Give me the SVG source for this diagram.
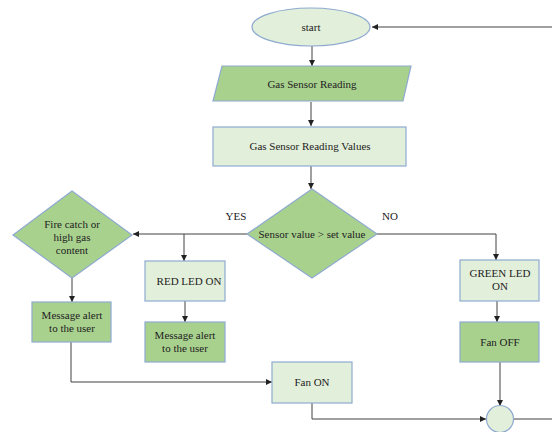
<svg xmlns="http://www.w3.org/2000/svg" width="552" height="432" viewBox="0 0 552 432" font-family="'Liberation Serif', 'Times New Roman', serif">
<style>
.lt{fill:#e2efda;stroke:#8eaad0;stroke-width:1.2}
.dk{fill:#a9d18e;stroke:#8eaad0;stroke-width:1.2}
.c{fill:none;stroke:#404040;stroke-width:1}
text{font-family:'Liberation Serif',serif;font-size:11px;fill:#222;text-anchor:middle}
</style>
<defs>
<marker id="a" viewBox="0 0 8 8" refX="8" refY="4" markerWidth="6" markerHeight="6" orient="auto" markerUnits="userSpaceOnUse"><path d="M0,0 L8,4 L0,8 z" fill="#222"/></marker>
</defs>
<rect width="552" height="432" fill="#fff"/>
<g id="connectors">
<path class="c" d="M552,27 H372" marker-end="url(#a)"/>
<path class="c" d="M312,46 V66" marker-end="url(#a)"/>
<path class="c" d="M311,102 V126" marker-end="url(#a)"/>
<path class="c" d="M311,166 V189" marker-end="url(#a)"/>
<path class="c" d="M247,234 H133" marker-end="url(#a)"/>
<path class="c" d="M184,234 V261" marker-end="url(#a)"/>
<path class="c" d="M377,234 H496 V260" marker-end="url(#a)"/>
<path class="c" d="M72,278 V302" marker-end="url(#a)"/>
<path class="c" d="M185,301 V322" marker-end="url(#a)"/>
<path class="c" d="M497,301 V322" marker-end="url(#a)"/>
<path class="c" d="M71,342 V382 H272" marker-end="url(#a)"/>
<path class="c" d="M500,362 V406" marker-end="url(#a)"/>
<path class="c" d="M312,403 V419 H486" marker-end="url(#a)"/>
<path class="c" d="M514,419 H552"/>
</g>
<g id="start"><ellipse class="lt" cx="311" cy="27" rx="59" ry="19"/><text x="311" y="30.5">start</text></g>
<g id="gas-reading"><polygon class="dk" points="222,66 411,66 403,101 213,101"/><text x="312" y="88">Gas Sensor Reading</text></g>
<g id="gas-values"><rect class="lt" x="213" y="127" width="193" height="39"/><text x="310" y="150">Gas Sensor Reading Values</text></g>
<g id="decision"><polygon class="dk" points="312,189 377,234 312,278 247,234"/><text x="312" y="237.5">Sensor value &gt; set value</text></g>
<text x="236" y="220">YES</text>
<text x="390" y="220">NO</text>
<g id="fire"><polygon class="dk" points="72,191 132,235 72,278 13,235"/><text x="72" y="228">Fire catch or</text><text x="72" y="241">high gas</text><text x="72" y="254">content</text></g>
<g id="msg1"><rect class="dk" x="32" y="302" width="79" height="40"/><text x="72" y="319">Message alert</text><text x="72" y="332">to the user</text></g>
<g id="red-led"><rect class="lt" x="145" y="261" width="80" height="40"/><text x="189" y="284.5">RED LED ON</text></g>
<g id="msg2"><rect class="dk" x="145" y="322" width="80" height="40"/><text x="185" y="339">Message alert</text><text x="185" y="352">to the user</text></g>
<g id="green-led"><rect class="lt" x="460" y="260" width="79" height="41"/><text x="500" y="276.5">GREEN LED</text><text x="500" y="290">ON</text></g>
<g id="fan-off"><rect class="dk" x="460" y="322" width="79" height="40"/><text x="500" y="345.5">Fan OFF</text></g>
<g id="fan-on"><rect class="lt" x="272" y="362" width="80" height="41"/><text x="312" y="385.5">Fan ON</text></g>
<g id="join"><circle class="lt" cx="500" cy="419" r="13.5"/></g>
</svg>
